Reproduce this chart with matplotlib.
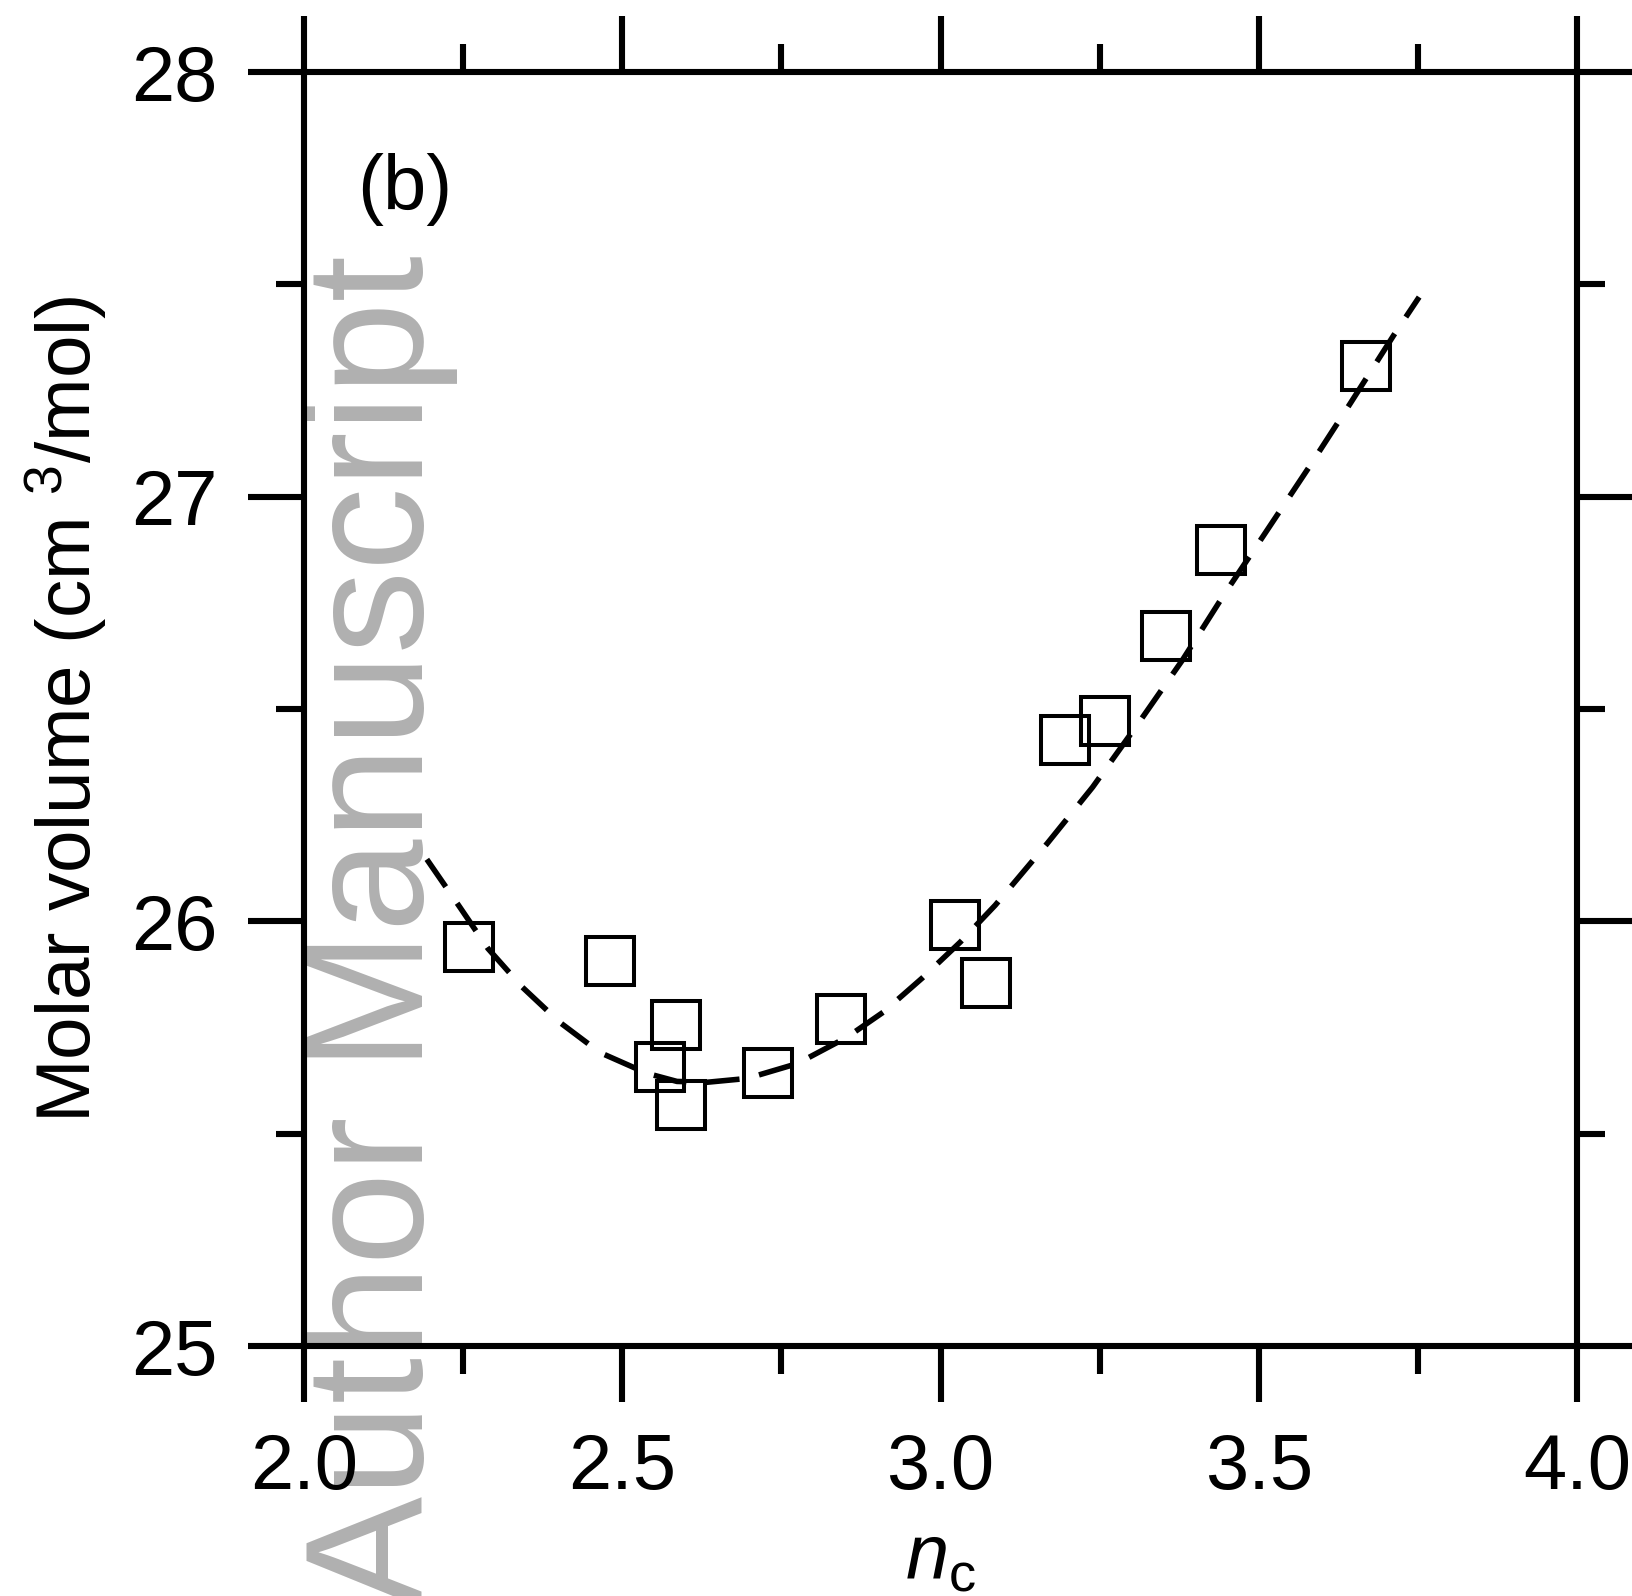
import matplotlib
matplotlib.use("Agg")
import matplotlib.pyplot as plt
from matplotlib.ticker import MultipleLocator

plt.rcParams["font.family"] = ["Liberation Sans", "DejaVu Sans"]
plt.rcParams["mathtext.fontset"] = "custom"
plt.rcParams["mathtext.rm"] = "Liberation Sans"
plt.rcParams["mathtext.it"] = "Liberation Sans:italic"

# measured points
nc = [2.259, 2.481, 2.584, 2.560, 2.593, 2.729, 2.843,
      3.022, 3.072, 3.195, 3.259, 3.355, 3.440, 3.668]
vol = [25.939, 25.906, 25.755, 25.658, 25.567, 25.642, 25.770,
       25.991, 25.855, 26.428, 26.471, 26.671, 26.874, 27.307]

# dashed guide curve
fit_x = [2.193, 2.245, 2.289, 2.343, 2.402, 2.465, 2.539, 2.586, 2.633,
         2.696, 2.775, 2.853, 2.910, 2.971, 3.031, 3.086, 3.168, 3.239,
         3.314, 3.380, 3.444, 3.510, 3.581, 3.644, 3.712, 3.752]
fit_y = [26.146, 26.033, 25.936, 25.845, 25.762, 25.691, 25.642, 25.623, 25.621,
         25.630, 25.665, 25.727, 25.786, 25.866, 25.951, 26.038, 26.184, 26.316,
         26.473, 26.615, 26.766, 26.914, 27.074, 27.220, 27.380, 27.470]

fig = plt.figure(figsize=(8.16, 7.98), dpi=200)
ax = fig.add_axes([304 / 1632, 1 - 1346 / 1596, 1273 / 1632, 1274 / 1596])
ax.patch.set_alpha(0)

ax.plot(fit_x, fit_y, color="black", lw=2.0, dashes=(6.0, 3.6), zorder=2)
ax.plot(nc, vol, ls="none", marker="s", ms=17, mfc="none", mec="black",
        mew=1.45, zorder=3)

ax.set_xlim(2.0, 4.0)
ax.set_ylim(25, 28)
ax.xaxis.set_major_locator(MultipleLocator(0.5))
ax.xaxis.set_minor_locator(MultipleLocator(0.25))
ax.yaxis.set_major_locator(MultipleLocator(1))
ax.yaxis.set_minor_locator(MultipleLocator(0.5))
ax.xaxis.set_major_formatter(matplotlib.ticker.FormatStrFormatter("%.1f"))

for s in ax.spines.values():
    s.set_linewidth(2.2)
ax.tick_params(which="both", direction="out", top=True, right=True,
               width=2.2, labelsize=28)
ax.tick_params(which="major", length=20, pad=11)
ax.tick_params(which="minor", length=10)

ax.set_ylabel("Molar volume (cm $^{3}$/mol)", fontsize=27.5, labelpad=8)
ax.set_xlabel(r"$n_{\mathrm{c}}$", fontsize=28, labelpad=6)

ax.text(0.042, 0.8917, "(b)", transform=ax.transAxes, fontsize=28,
        ha="left", va="baseline")

fig.text(423 / 1632, 1 - 255 / 1596, "Author Manuscript", rotation=90,
         rotation_mode="anchor", ha="right", va="baseline",
         fontsize=60, color="#b0b0b0", zorder=-1)

fig.savefig("out.png", dpi=200)
